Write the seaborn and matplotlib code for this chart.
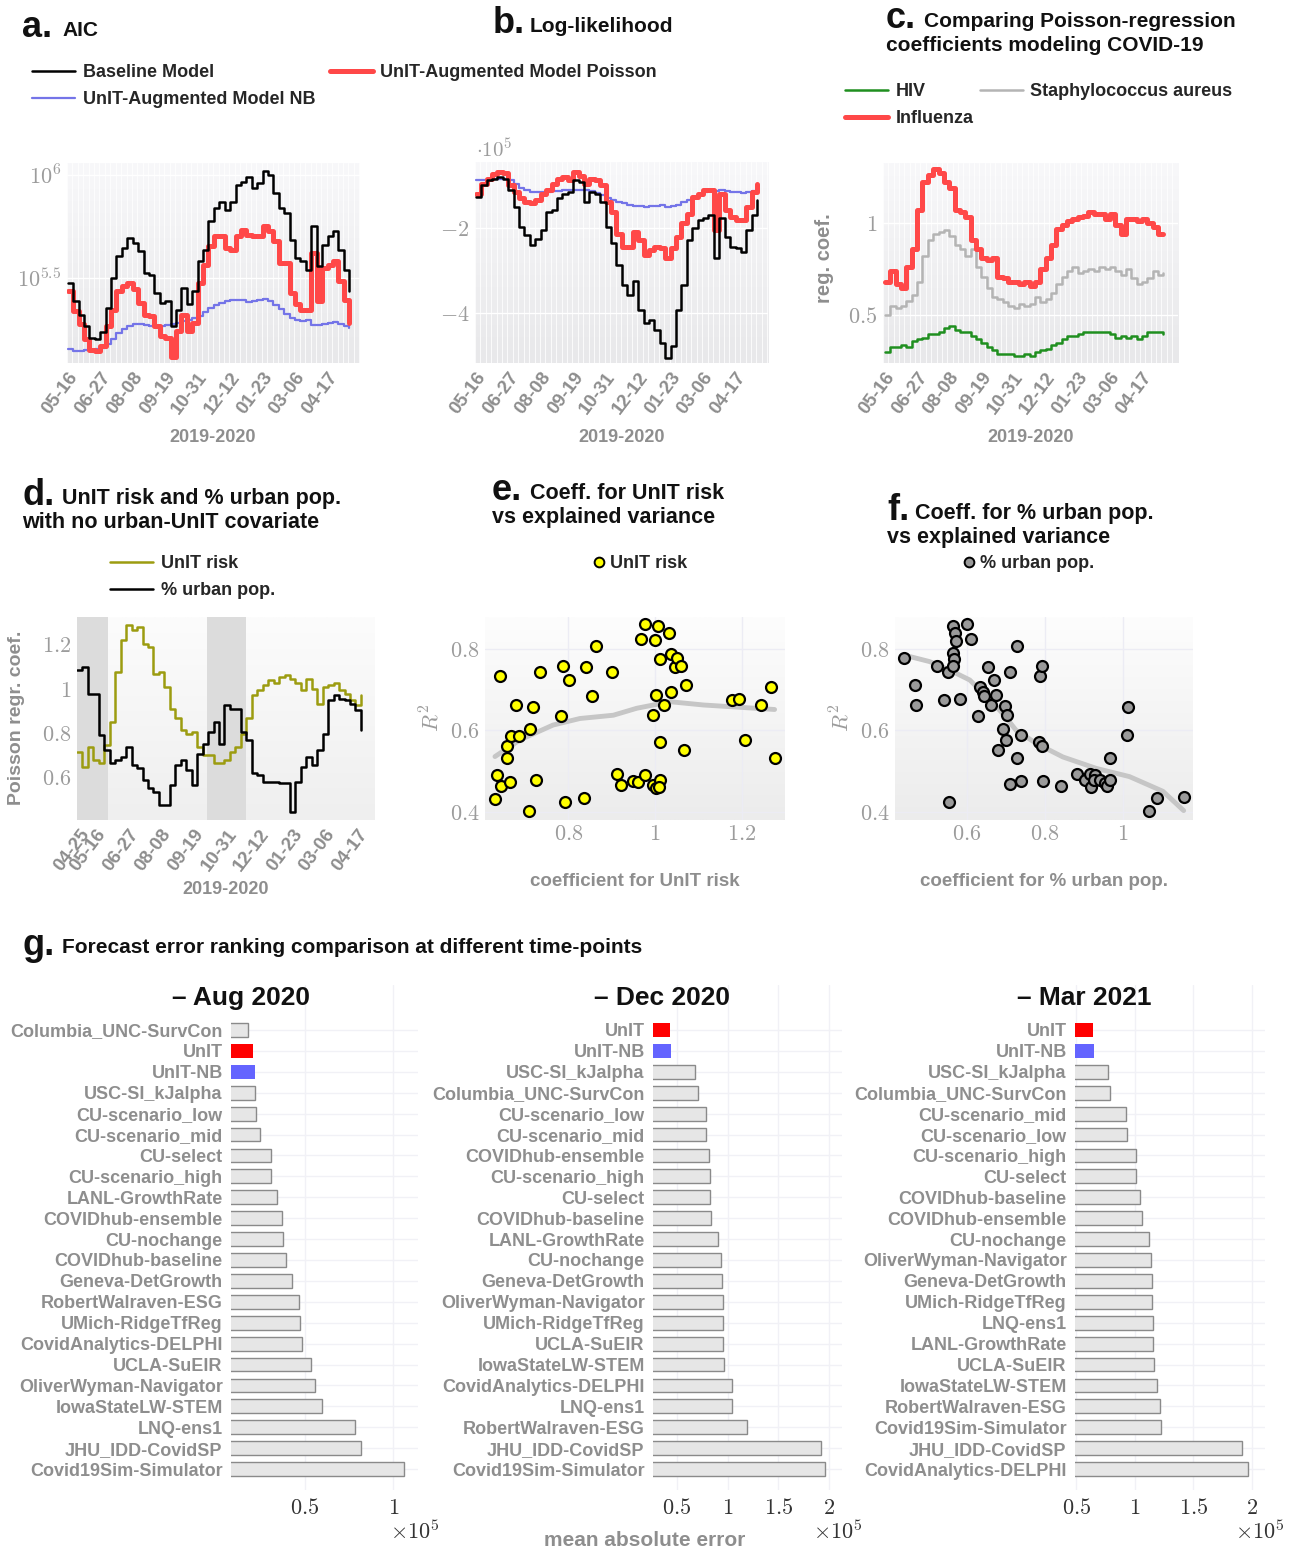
import numpy as np
import pandas as pd
import matplotlib
matplotlib.use("Agg")
import matplotlib.pyplot as plt
import seaborn as sns
from matplotlib.colors import LinearSegmentedColormap
from matplotlib.lines import Line2D

# ---------------------------------------------------------------- data
week_index = np.arange(53)
days_abc = week_index * 7          # days since 05-16
days_d = week_index * 7 - 3        # days since 04-25

date_ticks_abc = [0, 42, 84, 126, 168, 210, 252, 294, 336]
date_labels_abc = ['05-16', '06-27', '08-08', '09-19', '10-31', '12-12', '01-23', '03-06', '04-17']
date_ticks_d = [0, 21, 63, 105, 147, 189, 231, 273, 315, 357]
date_labels_d = ['04-25', '05-16', '06-27', '08-08', '09-19', '10-31', '12-12', '01-23', '03-06', '04-17']

# a. AIC (thousands)
aic_baseline_k = [299, 244, 210, 185, 162, 159, 173, 226, 316, 403, 442, 494, 467, 426, 334, 328, 268, 239,
                  244, 185, 222, 283, 235, 273, 381, 434, 595, 690, 743, 677, 743, 895, 929, 982, 862, 912,
                  1050, 1000, 816, 690, 652, 485, 395, 381, 347, 562, 360, 458, 503, 532, 434, 347, 273]
aic_poisson_k = [273, 218, 188, 159, 142, 140, 148, 185, 222, 273, 288, 299, 278, 239, 210, 206, 185, 165,
                 162, 130, 175, 210, 175, 192, 299, 367, 450, 503, 503, 442, 434, 503, 542, 513, 503, 503,
                 562, 532, 476, 374, 374, 268, 235, 222, 222, 418, 244, 354, 367, 381, 305, 248, 192]
aic_nb_k = [143, 140, 140, 142, 142, 143, 145, 151, 160, 171, 179, 185, 188, 188, 186, 185, 183, 185, 186,
            189, 192, 195, 198, 202, 207, 216, 225, 233, 240, 245, 248, 248, 246, 241, 243, 248, 250, 244,
            234, 224, 211, 202, 198, 196, 197, 186, 187, 190, 192, 193, 189, 185, 181]

# b. log-likelihood (x 1e5)
ll_baseline = [-1.25, -0.98, -0.86, -0.82, -0.78, -0.82, -1.10, -1.49, -1.96, -2.16, -2.39, -2.24, -2.04,
               -1.61, -1.57, -1.29, -1.18, -1.14, -0.86, -0.90, -1.37, -1.14, -1.18, -1.37, -1.96, -2.35,
               -2.86, -3.33, -3.57, -3.25, -3.92, -4.24, -4.16, -4.39, -4.71, -5.06, -4.78, -3.92, -3.33,
               -2.27, -2.00, -1.80, -1.76, -1.69, -2.71, -1.76, -2.20, -2.43, -2.47, -2.55, -2.04, -1.69, -1.33]
ll_poisson = [-1.18, -0.94, -0.82, -0.71, -0.67, -0.69, -0.98, -1.14, -1.29, -1.37, -1.41, -1.33, -1.18,
              -1.10, -0.94, -0.82, -0.78, -0.86, -0.67, -0.75, -0.94, -0.82, -0.86, -0.98, -1.37, -1.61,
              -2.12, -2.43, -2.43, -2.08, -2.27, -2.63, -2.51, -2.43, -2.47, -2.71, -2.47, -2.20, -1.88,
              -1.65, -1.25, -1.18, -1.10, -1.10, -2.04, -1.18, -1.57, -1.73, -1.80, -1.80, -1.49, -1.14, -0.94]
ll_nb = [-0.86, -0.85, -0.83, -0.82, -0.82, -0.83, -0.86, -0.94, -1.04, -1.08, -1.13, -1.15, -1.14, -1.13,
         -1.11, -1.11, -1.10, -1.09, -1.08, -1.08, -1.10, -1.11, -1.16, -1.22, -1.27, -1.33, -1.37, -1.41,
         -1.45, -1.48, -1.48, -1.49, -1.48, -1.46, -1.45, -1.50, -1.48, -1.45, -1.38, -1.32, -1.26, -1.20,
         -1.15, -1.12, -1.11, -1.10, -1.11, -1.13, -1.15, -1.16, -1.15, -1.12, -1.10]

# c. regression coefficients
coef_influenza = [0.68, 0.74, 0.67, 0.65, 0.76, 0.86, 1.07, 1.22, 1.26, 1.29, 1.27, 1.22, 1.19, 1.07, 1.06,
                  1.03, 0.91, 0.86, 0.81, 0.80, 0.81, 0.71, 0.70, 0.68, 0.68, 0.67, 0.68, 0.66, 0.68, 0.75,
                  0.81, 0.88, 0.97, 0.99, 1.01, 1.02, 1.03, 1.04, 1.06, 1.05, 1.05, 1.02, 1.05, 0.99, 0.94,
                  1.02, 1.02, 1.01, 1.02, 1.00, 0.98, 0.94, 0.94]
coef_staph = [0.50, 0.55, 0.54, 0.55, 0.58, 0.61, 0.68, 0.82, 0.91, 0.94, 0.95, 0.96, 0.93, 0.88, 0.86, 0.82,
              0.86, 0.76, 0.71, 0.65, 0.60, 0.59, 0.57, 0.55, 0.54, 0.56, 0.55, 0.56, 0.60, 0.57, 0.59, 0.62,
              0.67, 0.71, 0.74, 0.76, 0.73, 0.74, 0.75, 0.74, 0.76, 0.75, 0.76, 0.74, 0.72, 0.75, 0.70, 0.67,
              0.68, 0.70, 0.74, 0.72, 0.73]
coef_hiv = [0.30, 0.33, 0.33, 0.34, 0.33, 0.36, 0.37, 0.38, 0.40, 0.40, 0.41, 0.43, 0.44, 0.42, 0.41, 0.41,
            0.39, 0.37, 0.35, 0.33, 0.31, 0.29, 0.29, 0.29, 0.28, 0.28, 0.29, 0.28, 0.30, 0.31, 0.32, 0.34,
            0.35, 0.37, 0.39, 0.39, 0.40, 0.41, 0.41, 0.41, 0.41, 0.41, 0.40, 0.38, 0.39, 0.38, 0.39, 0.37,
            0.39, 0.41, 0.41, 0.41, 0.40]

# d. coefficients with no urban-UnIT covariate
unit_risk = [0.715, 0.647, 0.737, 0.677, 0.662, 0.745, 0.850, 1.075, 1.218, 1.285, 1.263, 1.278, 1.203, 1.188,
             1.068, 1.075, 1.008, 0.910, 0.865, 0.812, 0.797, 0.805, 0.737, 0.700, 0.700, 0.662, 0.662, 0.677,
             0.715, 0.737, 0.797, 0.865, 0.970, 0.992, 1.015, 1.038, 1.023, 1.053, 1.060, 1.045, 1.023, 0.992,
             1.045, 1.000, 0.932, 1.008, 1.015, 1.023, 0.992, 0.977, 0.947, 0.925, 0.970]
urban_pop = [1.083, 1.098, 0.977, 0.977, 0.790, 0.722, 0.662, 0.677, 0.692, 0.737, 0.655, 0.640, 0.587, 0.550,
             0.535, 0.474, 0.474, 0.565, 0.655, 0.677, 0.632, 0.565, 0.707, 0.752, 0.805, 0.850, 0.752, 0.925,
             0.910, 0.910, 0.805, 0.767, 0.617, 0.610, 0.580, 0.580, 0.580, 0.575, 0.572, 0.444, 0.580, 0.647,
             0.692, 0.655, 0.722, 0.797, 0.947, 0.970, 0.955, 0.947, 0.932, 0.902, 0.812]
shade_spans_d = [(-3, 37), (164, 214)]

# e. coefficient for UnIT risk vs R^2
unit_coef = [0.631, 0.636, 0.646, 0.642, 0.659, 0.658, 0.665, 0.667, 0.679, 0.686, 0.712, 0.719, 0.725, 0.736,
             0.709, 0.783, 0.788, 0.792, 0.802, 0.837, 0.842, 0.855, 0.865, 0.902, 0.913, 0.922, 0.950, 0.962,
             0.978, 0.968, 0.977, 0.996, 1.002, 1.002, 1.000, 1.008, 1.012, 1.012, 1.010, 1.022, 1.032, 1.036,
             1.038, 1.046, 1.052, 1.060, 1.071, 1.068, 0.995, 1.012, 1.178, 1.194, 1.208, 1.244, 1.267, 1.278]
unit_r2 = [0.433, 0.491, 0.464, 0.733, 0.563, 0.533, 0.475, 0.587, 0.661, 0.587, 0.603, 0.658, 0.478, 0.743,
           0.403, 0.635, 0.757, 0.425, 0.723, 0.435, 0.754, 0.684, 0.807, 0.743, 0.493, 0.467, 0.477, 0.475,
           0.491, 0.824, 0.859, 0.467, 0.459, 0.686, 0.820, 0.855, 0.774, 0.479, 0.461, 0.661, 0.839, 0.694,
           0.786, 0.755, 0.776, 0.758, 0.712, 0.551, 0.637, 0.572, 0.673, 0.677, 0.576, 0.663, 0.707, 0.533]
trend_e_x = [0.631, 0.689, 0.765, 0.827, 0.904, 0.958, 1.035, 1.112, 1.276]
trend_e_y = [0.536, 0.577, 0.613, 0.629, 0.637, 0.654, 0.670, 0.662, 0.651]

# f. coefficient for % urban pop. vs R^2
urban_coef = [0.438, 0.466, 0.468, 0.523, 0.541, 0.550, 0.553, 0.564, 0.568, 0.571, 0.564, 0.567, 0.564, 0.581,
              0.600, 0.611, 0.628, 0.634, 0.641, 0.643, 0.654, 0.662, 0.668, 0.675, 0.679, 0.692, 0.697, 0.701,
              0.703, 0.709, 0.709, 0.728, 0.728, 0.739, 0.739, 0.784, 0.786, 0.793, 0.793, 0.795, 0.842, 0.882,
              0.904, 0.915, 0.917, 0.929, 0.927, 0.942, 0.953, 0.959, 0.968, 0.966, 1.013, 1.011, 1.067, 1.088,
              1.158]
urban_r2 = [0.776, 0.711, 0.661, 0.758, 0.674, 0.743, 0.425, 0.855, 0.839, 0.819, 0.788, 0.774, 0.757, 0.677,
            0.859, 0.824, 0.635, 0.707, 0.694, 0.685, 0.754, 0.662, 0.723, 0.687, 0.552, 0.604, 0.660, 0.576,
            0.637, 0.743, 0.468, 0.807, 0.533, 0.589, 0.476, 0.572, 0.733, 0.757, 0.563, 0.476, 0.465, 0.493,
            0.479, 0.493, 0.461, 0.490, 0.479, 0.479, 0.471, 0.463, 0.479, 0.533, 0.658, 0.588, 0.404, 0.434,
            0.436]
trend_f_x = [0.438, 0.504, 0.556, 0.607, 0.650, 0.692, 0.726, 0.778, 0.846, 0.932, 1.017, 1.103, 1.156]
trend_f_y = [0.784, 0.768, 0.747, 0.723, 0.682, 0.641, 0.600, 0.568, 0.535, 0.507, 0.487, 0.451, 0.404]

# g. mean absolute error (x 1e5)
models_aug = ['Columbia_UNC-SurvCon', 'UnIT', 'UnIT-NB', 'USC-SI_kJalpha', 'CU-scenario_low', 'CU-scenario_mid',
              'CU-select', 'CU-scenario_high', 'LANL-GrowthRate', 'COVIDhub-ensemble', 'CU-nochange',
              'COVIDhub-baseline', 'Geneva-DetGrowth', 'RobertWalraven-ESG', 'UMich-RidgeTfReg',
              'CovidAnalytics-DELPHI', 'UCLA-SuEIR', 'OliverWyman-Navigator', 'IowaStateLW-STEM', 'LNQ-ens1',
              'JHU_IDD-CovidSP', 'Covid19Sim-Simulator']
mae_aug = [0.179, 0.204, 0.215, 0.217, 0.223, 0.243, 0.308, 0.306, 0.340, 0.368, 0.377, 0.389, 0.426, 0.468,
           0.472, 0.483, 0.534, 0.555, 0.596, 0.785, 0.819, 1.062]
models_dec = ['UnIT', 'UnIT-NB', 'USC-SI_kJalpha', 'Columbia_UNC-SurvCon', 'CU-scenario_low', 'CU-scenario_mid',
              'COVIDhub-ensemble', 'CU-scenario_high', 'CU-select', 'COVIDhub-baseline', 'LANL-GrowthRate',
              'CU-nochange', 'Geneva-DetGrowth', 'OliverWyman-Navigator', 'UMich-RidgeTfReg', 'UCLA-SuEIR',
              'IowaStateLW-STEM', 'CovidAnalytics-DELPHI', 'LNQ-ens1', 'RobertWalraven-ESG', 'JHU_IDD-CovidSP',
              'Covid19Sim-Simulator']
mae_dec = [0.428, 0.441, 0.680, 0.709, 0.784, 0.785, 0.814, 0.824, 0.825, 0.840, 0.908, 0.938, 0.944, 0.951,
           0.952, 0.958, 0.964, 1.039, 1.046, 1.193, 1.922, 1.958]
models_mar = ['UnIT', 'UnIT-NB', 'USC-SI_kJalpha', 'Columbia_UNC-SurvCon', 'CU-scenario_mid', 'CU-scenario_low',
              'CU-scenario_high', 'CU-select', 'COVIDhub-baseline', 'COVIDhub-ensemble', 'CU-nochange',
              'OliverWyman-Navigator', 'Geneva-DetGrowth', 'UMich-RidgeTfReg', 'LNQ-ens1', 'LANL-GrowthRate',
              'UCLA-SuEIR', 'IowaStateLW-STEM', 'RobertWalraven-ESG', 'Covid19Sim-Simulator', 'JHU_IDD-CovidSP',
              'CovidAnalytics-DELPHI']
mae_mar = [0.641, 0.653, 0.774, 0.785, 0.927, 0.932, 1.008, 1.011, 1.042, 1.065, 1.121, 1.138, 1.147, 1.148,
           1.153, 1.154, 1.161, 1.192, 1.215, 1.223, 1.918, 1.963]

# ---------------------------------------------------------------- style
sns.set_theme(style="white")
plt.rcParams['font.family'] = ['Liberation Sans', 'DejaVu Sans']
plt.rcParams['mathtext.fontset'] = 'cm'

RED = '#ff4848'
BLUE = '#7474e8'
GREEN = '#1f8f1f'
GRAYLINE = '#b4b4b4'
OLIVE = '#9c9c10'
TXT_GRAY = '#8e8e8e'
TICK_GRAY = '#9c9c9c'

W, H = 1301, 1549
fig = plt.figure(figsize=(W / 100, H / 100), dpi=100)


def fx(x):
    return x / W


def fy(y):
    return 1 - y / H


def ax_px(x0, y0, x1, y1):
    return fig.add_axes([fx(x0), fy(y1), (x1 - x0) / W, (y1 - y0) / H])


def add_bg(rect, top, bottom):
    bg = ax_px(*rect)
    bg.set_zorder(-5)
    cmap = LinearSegmentedColormap.from_list('bg', [bottom, top])
    bg.imshow(np.linspace(0, 1, 128).reshape(-1, 1), aspect='auto', cmap=cmap,
              origin='lower', extent=[0, 1, 0, 1])
    bg.set_axis_off()


def clean(ax):
    for s in ax.spines.values():
        s.set_visible(False)
    ax.set_facecolor('none')
    ax.tick_params(length=0)


def ftext(x, y, s, **kw):
    fig.text(fx(x), fy(y), s, **kw)


def panel_title(x, y, letter, lines, lsize=26, tsize=15, letter_w=30, dy=24):
    ftext(x, y, letter, fontsize=lsize, fontweight='bold', color='#111111', va='baseline')
    ftext(x + letter_w + 10, y - 1, lines[0], fontsize=tsize, fontweight='bold', color='#111111', va='baseline')
    for i, line in enumerate(lines[1:], start=1):
        ftext(x, y - 1 + dy * i, line, fontsize=tsize, fontweight='bold', color='#111111', va='baseline')


def date_labels(ax, ticks, labels):
    ax.set_xticks(ticks)
    ax.set_xticklabels(labels, rotation=53, ha='right', va='top', rotation_mode='anchor',
                       fontsize=13.5, fontweight='bold', color=TXT_GRAY)
    ax.tick_params(axis='x', pad=4)


def date_axis(ax, ticks, labels, xlim):
    ax.set_xlim(*xlim)
    date_labels(ax, ticks, labels)
    ax.set_xticks(np.arange(xlim[0], xlim[1], 7), minor=True)
    ax.grid(True, which='minor', axis='x', color='white', lw=0.7, alpha=0.8)
    ax.grid(True, which='major', axis='y', color='white', lw=1.0)


def serif_yticks(ax, ticks, labels):
    ax.set_yticks(ticks)
    ax.set_yticklabels(labels, fontsize=16, color=TICK_GRAY)
    ax.tick_params(axis='y', pad=4)


def step(ax, x, y, color, lw, z=2):
    sns.lineplot(x=x, y=y, drawstyle='steps-post', color=color, lw=lw, ax=ax,
                 estimator=None, sort=False, zorder=z)
    return ax.get_lines()[-1]


LEG = dict(frameon=False, prop=dict(weight='bold', size=13), handlelength=2.4, handletextpad=0.4,
           labelspacing=0.55, borderpad=0, borderaxespad=0, loc='upper left')

# ---------------------------------------------------------------- a. AIC
rect_a = (67, 163, 360, 363)
add_bg(rect_a, '#f8f8fa', '#e8e8ea')
ax = ax_px(*rect_a)
clean(ax)
ax.set_yscale('log')
h_nb = step(ax, days_abc, np.array(aic_nb_k) * 1e3, BLUE, 1.6)
h_pois = step(ax, days_abc, np.array(aic_poisson_k) * 1e3, RED, 3.6)
h_base = step(ax, days_abc, np.array(aic_baseline_k) * 1e3, 'black', 1.8, z=3)
ax.set_ylim(10 ** 5.087, 10 ** 6.058)
ax.yaxis.set_minor_locator(matplotlib.ticker.NullLocator())
serif_yticks(ax, [10 ** 5.5, 10 ** 6], [r'$10^{5.5}$', r'$10^{6}$'])
date_axis(ax, date_ticks_abc, date_labels_abc, (-1, 378))
ax.set_xlabel('')
ax.set_ylabel('')
ftext(213, 437, '2019-2020', fontsize=13, fontweight='bold', color=TXT_GRAY, ha='center', va='center')
panel_title(22, 37, 'a.', ['AIC'])
fig.legend([h_base, h_nb, h_pois],
           ['Baseline Model', 'UnIT-Augmented Model NB', 'UnIT-Augmented Model Poisson'],
           ncol=2, bbox_to_anchor=(fx(32), fy(64)), columnspacing=0.8, **LEG)

# ---------------------------------------------------------------- b. log-likelihood
rect_b = (475, 162, 768, 363)
add_bg(rect_b, '#f8f8fa', '#e8e8ea')
ax = ax_px(*rect_b)
clean(ax)
step(ax, days_abc, ll_nb, BLUE, 1.6)
step(ax, days_abc, ll_poisson, RED, 3.6)
step(ax, days_abc, ll_baseline, 'black', 1.8, z=3)
ax.set_ylim(-5.18, -0.43)
serif_yticks(ax, [-4, -2], [r'$-4$', r'$-2$'])
date_axis(ax, date_ticks_abc, date_labels_abc, (-1, 378))
ax.set_xlabel('')
ax.set_ylabel('')
ftext(476, 150, r'$\cdot 10^{5}$', fontsize=15, color=TICK_GRAY, va='center')
ftext(622, 438, '2019-2020', fontsize=13, fontweight='bold', color=TXT_GRAY, ha='center', va='center')
panel_title(493, 33, 'b.', ['Log-likelihood'], letter_w=27)

# ---------------------------------------------------------------- c. coefficients
rect_c = (883, 163, 1178, 363)
add_bg(rect_c, '#f8f8fa', '#e8e8ea')
ax = ax_px(*rect_c)
clean(ax)
h_hiv = step(ax, days_abc, coef_hiv, GREEN, 1.8)
h_staph = step(ax, days_abc, coef_staph, GRAYLINE, 1.8)
h_flu = step(ax, days_abc, coef_influenza, RED, 3.6)
ax.set_ylim(0.242, 1.325)
serif_yticks(ax, [0.5, 1.0], [r'$0.5$', r'$1$'])
date_axis(ax, date_ticks_abc, date_labels_abc, (-2.6, 383))
ax.set_xlabel('')
ax.set_ylabel('')
ftext(825, 258, 'reg. coef.', fontsize=14.5, fontweight='bold', color=TXT_GRAY, ha='center', va='center',
      rotation=90)
ftext(1031, 438, '2019-2020', fontsize=13, fontweight='bold', color=TXT_GRAY, ha='center', va='center')
panel_title(886, 28, 'c.', ['Comparing Poisson-regression', 'coefficients modeling COVID-19'], letter_w=28)
fig.legend([h_hiv, h_flu, h_staph], ['HIV', 'Influenza', 'Staphylococcus aureus'],
           ncol=2, bbox_to_anchor=(fx(845), fy(83)), columnspacing=0.35, **LEG)

# ---------------------------------------------------------------- d. UnIT risk and % urban pop.
rect_d = (77, 617, 375, 820)
add_bg(rect_d, '#fcfcfc', '#efefef')
ax = ax_px(*rect_d)
clean(ax)
for s0, s1 in shade_spans_d:
    ax.axvspan(s0, s1, color='#dcdcdc', zorder=0, lw=0)
h_unit = step(ax, days_d, unit_risk, OLIVE, 1.8)
h_urban = step(ax, days_d, urban_pop, 'black', 1.8)
ax.set_ylim(0.407, 1.323)
serif_yticks(ax, [0.6, 0.8, 1.0, 1.2], [r'$0.6$', r'$0.8$', r'$1$', r'$1.2$'])
ax.set_xlim(-3, 379)
date_labels(ax, date_ticks_d, date_labels_d)
ax.grid(False)
ax.set_xlabel('')
ax.set_ylabel('')
ftext(17, 718, 'Poisson regr. coef.', fontsize=14, fontweight='bold', color=TXT_GRAY, ha='center',
      va='center', rotation=90)
ftext(226, 890, '2019-2020', fontsize=13, fontweight='bold', color=TXT_GRAY, ha='center', va='center')
panel_title(22, 505, 'd.', ['UnIT risk and % urban pop.', 'with no urban-UnIT covariate'],
            tsize=15.5, letter_w=30)
fig.legend([h_unit, h_urban], ['UnIT risk', '% urban pop.'], ncol=1,
           bbox_to_anchor=(fx(110), fy(555)), **LEG)


# ---------------------------------------------------------------- e / f scatter panels
def scatter_panel(rect, xs, ys, tx, ty, face, xlim, xticks, xlabels, xlabel_txt, xlabel_x, ylab_x):
    add_bg(rect, '#fdfdfd', '#ececec')
    ax = ax_px(*rect)
    clean(ax)
    sns.lineplot(x=tx, y=ty, color='#c6c6c6', lw=3.5, ax=ax, estimator=None, sort=False, zorder=2)
    sns.scatterplot(x=xs, y=ys, s=62, color=face, edgecolor='black', linewidth=1.6, ax=ax, zorder=3,
                    legend=False)
    ax.set_xlim(*xlim)
    ax.set_ylim(0.381, 0.877)
    ax.set_xticks(xticks)
    ax.set_xticklabels(xlabels, fontsize=16, color=TICK_GRAY)
    serif_yticks(ax, [0.4, 0.6, 0.8], [r'$0.4$', r'$0.6$', r'$0.8$'])
    ax.tick_params(axis='x', pad=3)
    ax.grid(True, color='#ececf4', lw=1.0)
    ax.set_axisbelow(True)
    ax.set_xlabel('')
    ax.set_ylabel('')
    ftext(xlabel_x, 881, xlabel_txt, fontsize=13.5, fontweight='bold', color=TXT_GRAY, ha='center',
          va='center')
    ftext(ylab_x, 718, r'$R^2$', fontsize=16, color=TICK_GRAY, ha='center', va='center', rotation=90)
    return ax


scatter_panel((485, 617, 785, 820), unit_coef, unit_r2, trend_e_x, trend_e_y, '#ffff00', (0.608, 1.30),
              [0.8, 1.0, 1.2], [r'$0.8$', r'$1$', r'$1.2$'], 'coefficient for UnIT risk', 635, 432)
panel_title(492, 500, 'e.', ['Coeff. for UnIT risk', 'vs explained variance'], tsize=15.5, letter_w=28)
fig.legend([Line2D([], [], ls='none', marker='o', markersize=7, markerfacecolor='#ffff00',
                   markeredgecolor='black', markeredgewidth=1.4)], ['UnIT risk'],
           loc='upper left', bbox_to_anchor=(fx(593), fy(555)), frameon=False,
           prop=dict(weight='bold', size=13), handlelength=0.7, handletextpad=0.25, borderpad=0,
           borderaxespad=0)

scatter_panel((895, 617, 1193, 820), urban_coef, urban_r2, trend_f_x, trend_f_y, '#9a9a9a', (0.415, 1.18),
              [0.6, 0.8, 1.0], [r'$0.6$', r'$0.8$', r'$1$'], 'coefficient for % urban pop.', 1044, 842)
panel_title(887, 520, 'f.', ['Coeff. for % urban pop.', 'vs explained variance'], tsize=15.5, letter_w=18)
fig.legend([Line2D([], [], ls='none', marker='o', markersize=7, markerfacecolor='#9a9a9a',
                   markeredgecolor='black', markeredgewidth=1.4)], ['% urban pop.'],
           loc='upper left', bbox_to_anchor=(fx(963), fy(555)), frameon=False,
           prop=dict(weight='bold', size=13), handlelength=0.7, handletextpad=0.25, borderpad=0,
           borderaxespad=0)


# ---------------------------------------------------------------- g. forecast error rankings
def bar_panel(rect, names, vals, xlim, xticks, xlabels, title, title_x, mult_x):
    ax = ax_px(*rect)
    clean(ax)
    colors = ['#ff0000' if n == 'UnIT' else '#6464ff' if n == 'UnIT-NB' else '#e6e6e6' for n in names]
    df = pd.DataFrame({'model': names, 'mae': vals})
    sns.barplot(data=df, x='mae', y='model', hue='model', order=names, hue_order=names, palette=colors,
                legend=False, orient='h', width=0.66, saturation=1, ax=ax, zorder=3)
    for p, n in zip(ax.patches, names):
        if n in ('UnIT', 'UnIT-NB'):
            p.set_edgecolor('none')
        else:
            p.set_edgecolor('#8a8a8a')
            p.set_linewidth(1.0)
    ax.set_xlim(*xlim)
    ax.set_ylim(22.0, -2.15)
    ax.set_xticks(xticks)
    ax.set_xticklabels(xlabels, fontsize=16, color='#333333')
    ax.tick_params(axis='x', pad=6)
    ax.tick_params(axis='y', pad=6)
    for lab in ax.get_yticklabels():
        lab.set_fontsize(13)
        lab.set_fontweight('bold')
        lab.set_color(TXT_GRAY)
    ax.grid(True, color='#f1f1f6', lw=1.0)
    ax.set_axisbelow(True)
    ax.set_xlabel('')
    ax.set_ylabel('')
    ftext(title_x, 998, title, fontsize=19, fontweight='bold', color='#111111', ha='center', va='center')
    ftext(mult_x, 1532, r'$\times 10^{5}$', fontsize=16, color='#333333', ha='center', va='center')
    return ax


bar_panel((231, 985, 418, 1490), models_aug, mae_aug, (0.08, 1.14), [0.5, 1.0], [r'$0.5$', r'$1$'],
          '– Aug 2020', 241, 415)
bar_panel((653, 985, 842, 1490), models_dec, mae_dec, (0.263, 2.13), [0.5, 1.0, 1.5, 2.0],
          [r'$0.5$', r'$1$', r'$1.5$', r'$2$'], '– Dec 2020', 662, 838)
bar_panel((1075, 985, 1265, 1490), models_mar, mae_mar, (0.49, 2.11), [0.5, 1.0, 1.5, 2.0],
          [r'$0.5$', r'$1$', r'$1.5$', r'$2$'], '– Mar 2021', 1084, 1260)
ftext(645, 1541, 'mean absolute error', fontsize=15, fontweight='bold', color=TXT_GRAY, ha='center',
      va='center')
ftext(22, 955, 'g.', fontsize=26, fontweight='bold', color='#111111', va='baseline')
ftext(62, 953, 'Forecast error ranking comparison at different time-points', fontsize=15,
      fontweight='bold', color='#111111', va='baseline')

fig.savefig('out.png', dpi=100)
